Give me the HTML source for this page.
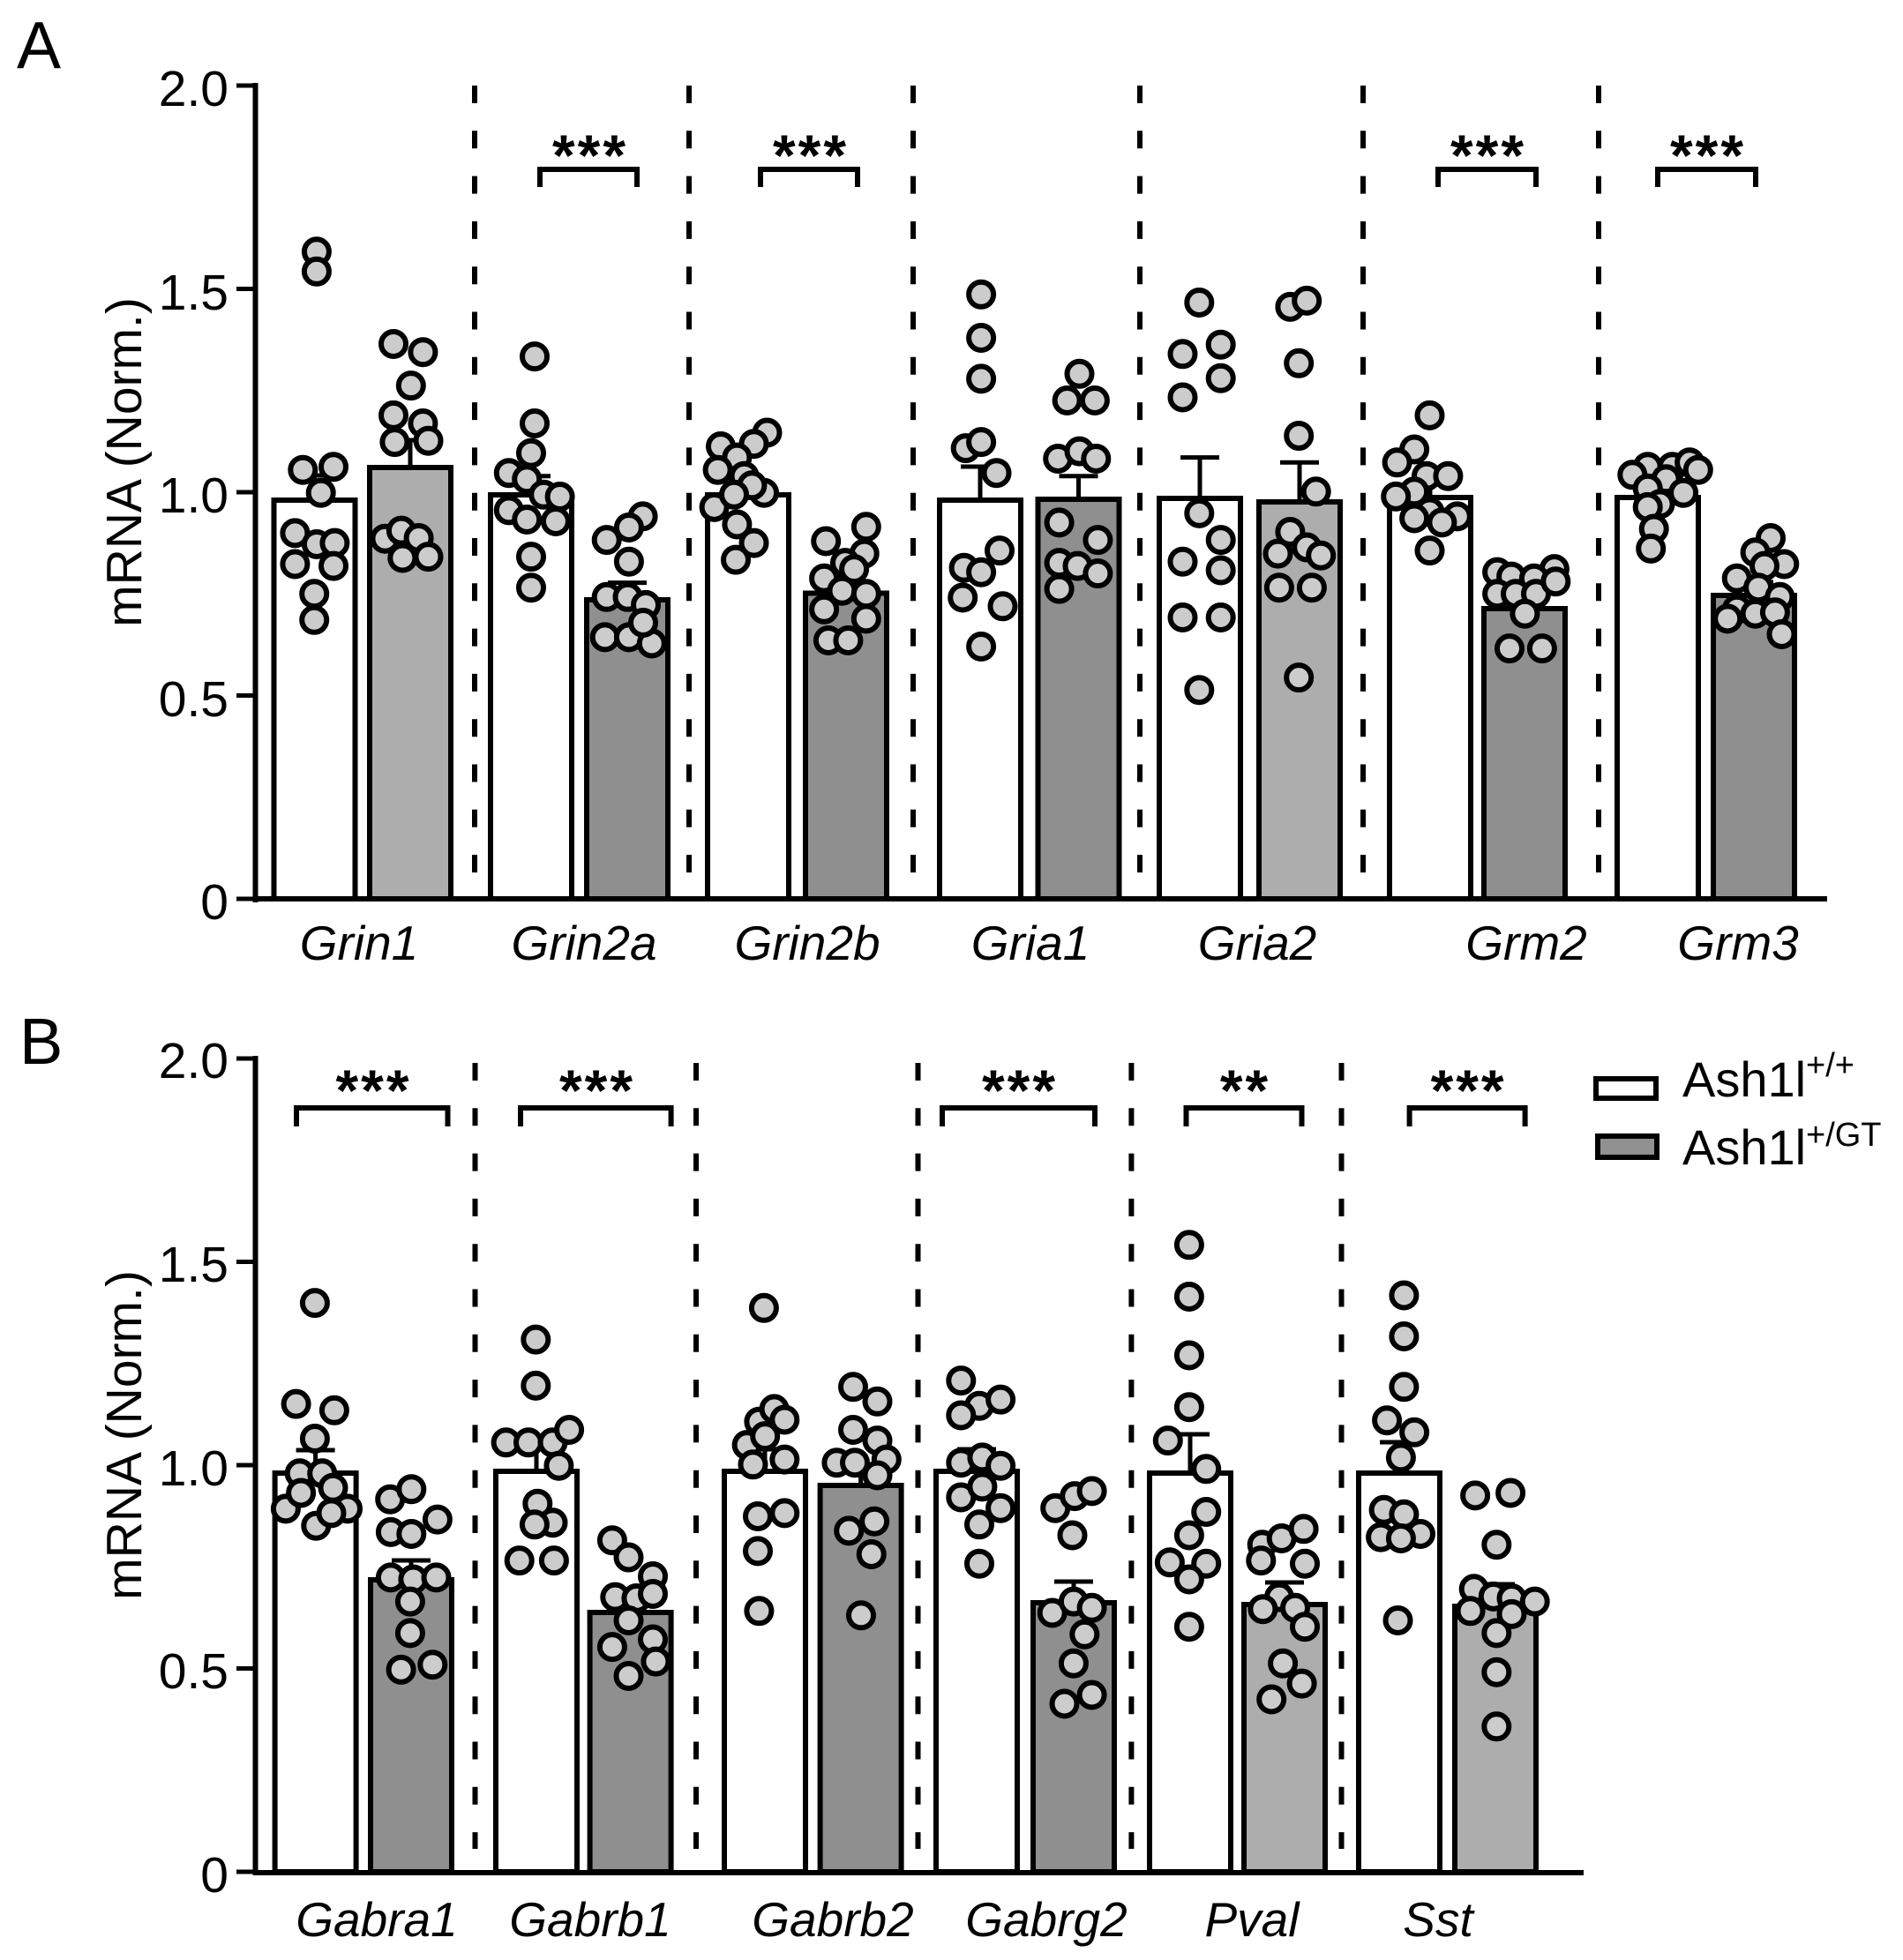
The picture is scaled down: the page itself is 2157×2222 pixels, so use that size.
<!DOCTYPE html>
<html><head><meta charset="utf-8"><style>
html,body{margin:0;padding:0;background:#fff;}
svg{display:block;}
text{font-family:"Liberation Sans",Arial,sans-serif;fill:#000;}
</style></head><body>
<svg width="2157" height="2222" viewBox="0 0 2157 2222" xmlns="http://www.w3.org/2000/svg">
<rect width="2157" height="2222" fill="#fff"/>

<!-- ================= PANEL A ================= -->
<text x="19" y="77" font-size="75">A</text>
<text transform="translate(160,524) rotate(-90)" text-anchor="middle" font-size="57">mRNA (Norm.)</text>

<g font-size="57" text-anchor="end">
<text x="259" y="120">2.0</text>
<text x="259" y="351">1.5</text>
<text x="259" y="581">1.0</text>
<text x="259" y="812">0.5</text>
<text x="259" y="1042">0</text>
</g>

<!-- dashed separators A -->
<g stroke="#000" stroke-width="6" stroke-dasharray="20 31.3">
<line x1="538" y1="97" x2="538" y2="990"/>
<line x1="781" y1="97" x2="781" y2="990"/>
<line x1="1035" y1="97" x2="1035" y2="990"/>
<line x1="1292" y1="97" x2="1292" y2="990"/>
<line x1="1545" y1="97" x2="1545" y2="990"/>
<line x1="1812" y1="97" x2="1812" y2="990"/>
</g>

<!-- bars A -->
<g stroke="#000" stroke-width="6">
<rect x="310.5" y="567" width="92" height="452" fill="#fff"/>
<rect x="419" y="530" width="92" height="489" fill="#adadad"/>
<rect x="556" y="561" width="92" height="458" fill="#fff"/>
<rect x="665" y="680" width="92" height="339" fill="#8f8f8f"/>
<rect x="802" y="561" width="92" height="458" fill="#fff"/>
<rect x="913" y="672.5" width="92" height="346.5" fill="#8f8f8f"/>
<rect x="1065" y="567" width="92" height="452" fill="#fff"/>
<rect x="1176.5" y="566" width="92" height="453" fill="#8f8f8f"/>
<rect x="1314" y="565" width="92" height="454" fill="#fff"/>
<rect x="1427" y="569" width="92" height="450" fill="#adadad"/>
<rect x="1575" y="564" width="92" height="455" fill="#fff"/>
<rect x="1682" y="690" width="92" height="329" fill="#8f8f8f"/>
<rect x="1833" y="564" width="92" height="455" fill="#fff"/>
<rect x="1942" y="675" width="92" height="344" fill="#8f8f8f"/>
</g>

<!-- error bars A -->
<g stroke="#000" stroke-width="5" fill="none">
<path d="M356.5 564V539M334.5 539H378.5"/>
<path d="M465 527V499M443 499H487"/>
<path d="M602 558V539.7M580 539.7H624"/>
<path d="M711 677V660.6M689 660.6H733"/>
<path d="M848 558V545M826 545H870"/>
<path d="M959 669.5V655.7M937 655.7H981"/>
<path d="M1111 564V529M1089 529H1133"/>
<path d="M1222.5 563V539.7M1200.5 539.7H1244.5"/>
<path d="M1360 562V518.6M1338 518.6H1382"/>
<path d="M1473 566V524.3M1451 524.3H1495"/>
<path d="M1621 561V545M1599 545H1643"/>
<path d="M1728 687V675M1706 675H1750"/>
<path d="M1879 561V548M1857 548H1901"/>
<path d="M1988 672V660M1966 660H2010"/>
</g>

<!-- points A -->
<g fill="#cccccc" stroke="#000" stroke-width="6">
<!-- Grin1 WT -->
<circle cx="358.9" cy="285.3" r="14"/><circle cx="358.9" cy="307.8" r="14"/>
<circle cx="343.3" cy="532.7" r="14"/><circle cx="378" cy="529.2" r="14"/>
<circle cx="363.7" cy="558.7" r="14"/><circle cx="334.4" cy="604.4" r="14"/>
<circle cx="358.9" cy="617" r="14"/><circle cx="379.4" cy="615.6" r="14"/>
<circle cx="334.4" cy="639.5" r="14"/><circle cx="378" cy="641.6" r="14"/>
<circle cx="356.2" cy="673.2" r="14"/><circle cx="356.2" cy="702.8" r="14"/>
<!-- Grin1 GT -->
<circle cx="446" cy="390" r="14"/><circle cx="479.4" cy="399.2" r="14"/>
<circle cx="465.8" cy="437.1" r="14"/><circle cx="446" cy="470.9" r="14"/>
<circle cx="479.4" cy="480" r="14"/><circle cx="447.4" cy="501.1" r="14"/>
<circle cx="485.5" cy="499.7" r="14"/><circle cx="436.5" cy="610.7" r="14"/>
<circle cx="454.9" cy="601.6" r="14"/><circle cx="474.6" cy="610" r="14"/>
<circle cx="456.3" cy="632.5" r="14"/><circle cx="485.5" cy="631.1" r="14"/>
<!-- Grin2a WT -->
<circle cx="606" cy="404.1" r="14"/><circle cx="606" cy="480" r="14"/>
<circle cx="602" cy="513.7" r="14"/><circle cx="576.8" cy="536.2" r="14"/>
<circle cx="597.2" cy="543.2" r="14"/><circle cx="616.2" cy="560.8" r="14"/>
<circle cx="634.6" cy="563" r="14"/><circle cx="576.8" cy="578.4" r="14"/>
<circle cx="597.2" cy="589" r="14"/><circle cx="629.9" cy="591" r="14"/>
<circle cx="602" cy="631.1" r="14"/><circle cx="602" cy="666.2" r="14"/>
<!-- Grin2a GT -->
<circle cx="728.6" cy="585.4" r="14"/><circle cx="712.9" cy="598" r="14"/>
<circle cx="687.7" cy="612.1" r="14"/><circle cx="712.9" cy="636.7" r="14"/>
<circle cx="687.7" cy="676.8" r="14"/><circle cx="711.5" cy="676.8" r="14"/>
<circle cx="732" cy="685.9" r="14"/><circle cx="685.7" cy="722.4" r="14"/>
<circle cx="712.9" cy="722.4" r="14"/><circle cx="738.8" cy="729.5" r="14"/>
<circle cx="729" cy="706" r="14"/>
<!-- Grin2b WT -->
<circle cx="817" cy="506" r="14"/><circle cx="869.5" cy="490.5" r="14"/>
<circle cx="854.5" cy="503.2" r="14"/><circle cx="835.4" cy="518.6" r="14"/>
<circle cx="813.6" cy="532.7" r="14"/><circle cx="843.6" cy="539.7" r="14"/>
<circle cx="866" cy="558.7" r="14"/><circle cx="809.6" cy="574.9" r="14"/>
<circle cx="852.4" cy="550.3" r="14"/><circle cx="832" cy="560.8" r="14"/>
<circle cx="835.4" cy="594.5" r="14"/><circle cx="854.5" cy="615.6" r="14"/>
<circle cx="834" cy="634.6" r="14"/>
<!-- Grin2b GT -->
<circle cx="981.8" cy="597.3" r="14"/><circle cx="936.2" cy="613.5" r="14"/>
<circle cx="979.7" cy="627.6" r="14"/><circle cx="958" cy="638.1" r="14"/>
<circle cx="934.1" cy="655.7" r="14"/><circle cx="968.1" cy="645.1" r="14"/>
<circle cx="954.5" cy="669.7" r="14"/><circle cx="981.8" cy="673.2" r="14"/>
<circle cx="934.1" cy="690.8" r="14"/><circle cx="981.8" cy="701.4" r="14"/>
<circle cx="938.9" cy="726" r="14"/><circle cx="961.4" cy="726" r="14"/>
<!-- Gria1 WT -->
<circle cx="1112.1" cy="333.8" r="14"/><circle cx="1112.1" cy="383" r="14"/>
<circle cx="1112.1" cy="429.4" r="14"/><circle cx="1094.7" cy="508.1" r="14"/>
<circle cx="1112.1" cy="501.1" r="14"/><circle cx="1129.5" cy="536.2" r="14"/>
<circle cx="1133" cy="624.1" r="14"/><circle cx="1092.6" cy="643.7" r="14"/>
<circle cx="1112.1" cy="648.7" r="14"/><circle cx="1091.2" cy="677.5" r="14"/>
<circle cx="1136.5" cy="687.3" r="14"/><circle cx="1112.1" cy="733" r="14"/>
<!-- Gria1 GT -->
<circle cx="1223.5" cy="423.8" r="14"/><circle cx="1209.6" cy="454" r="14"/>
<circle cx="1240.9" cy="454" r="14"/><circle cx="1199.2" cy="520" r="14"/>
<circle cx="1223.5" cy="511.6" r="14"/><circle cx="1242.3" cy="520" r="14"/>
<circle cx="1200.6" cy="592.4" r="14"/><circle cx="1244.4" cy="612.1" r="14"/>
<circle cx="1200.6" cy="638.1" r="14"/><circle cx="1221.5" cy="641.6" r="14"/>
<circle cx="1244.4" cy="650.1" r="14"/><circle cx="1200.6" cy="667.6" r="14"/>
<!-- Gria2 WT -->
<circle cx="1359.3" cy="343" r="14"/><circle cx="1340.5" cy="401.3" r="14"/>
<circle cx="1383.7" cy="390.7" r="14"/><circle cx="1383.7" cy="428.7" r="14"/>
<circle cx="1340.5" cy="450.5" r="14"/><circle cx="1359.3" cy="581.9" r="14"/>
<circle cx="1383.7" cy="612.1" r="14"/><circle cx="1340.5" cy="636.7" r="14"/>
<circle cx="1383.7" cy="646.5" r="14"/><circle cx="1340.5" cy="700" r="14"/>
<circle cx="1383.7" cy="700" r="14"/><circle cx="1359.3" cy="782.2" r="14"/>
<!-- Gria2 GT -->
<circle cx="1462.4" cy="347.9" r="14"/><circle cx="1481.2" cy="340.9" r="14"/>
<circle cx="1472.2" cy="411.8" r="14"/><circle cx="1472.2" cy="494" r="14"/>
<circle cx="1491.7" cy="557.3" r="14"/><circle cx="1462.4" cy="603" r="14"/>
<circle cx="1448.5" cy="627.6" r="14"/><circle cx="1481.2" cy="620.5" r="14"/>
<circle cx="1497.2" cy="629.7" r="14"/><circle cx="1449.9" cy="666.2" r="14"/>
<circle cx="1486.9" cy="666.2" r="14"/><circle cx="1472.2" cy="768.1" r="14"/>
<!-- Grm2 WT -->
<circle cx="1620.5" cy="470.9" r="14"/><circle cx="1603.1" cy="509.5" r="14"/>
<circle cx="1583.6" cy="524.3" r="14"/><circle cx="1617" cy="539.7" r="14"/>
<circle cx="1641.4" cy="539.7" r="14"/><circle cx="1603.1" cy="557.3" r="14"/>
<circle cx="1582.2" cy="562.9" r="14"/><circle cx="1620.5" cy="580.5" r="14"/>
<circle cx="1651.8" cy="585.4" r="14"/><circle cx="1603.1" cy="587.5" r="14"/>
<circle cx="1634.4" cy="592.4" r="14"/><circle cx="1620.5" cy="624.1" r="14"/>
<!-- Grm2 GT -->
<circle cx="1697.1" cy="648.6" r="14"/><circle cx="1713.1" cy="653.6" r="14"/>
<circle cx="1761.9" cy="645.1" r="14"/><circle cx="1738.9" cy="655.7" r="14"/>
<circle cx="1697.1" cy="673.2" r="14"/><circle cx="1718" cy="673.2" r="14"/>
<circle cx="1741" cy="673.2" r="14"/><circle cx="1728.4" cy="695.7" r="14"/>
<circle cx="1711" cy="735.1" r="14"/><circle cx="1747.9" cy="735.1" r="14"/>
<circle cx="1763.3" cy="659.2" r="14"/>
<!-- Grm3 WT -->
<circle cx="1867.7" cy="529.2" r="14"/><circle cx="1850.3" cy="538.3" r="14"/>
<circle cx="1895.6" cy="529.2" r="14"/><circle cx="1915.1" cy="524.3" r="14"/>
<circle cx="1924.8" cy="532.7" r="14"/><circle cx="1888.6" cy="543.2" r="14"/>
<circle cx="1867.7" cy="553.8" r="14"/><circle cx="1908.1" cy="558.7" r="14"/>
<circle cx="1881.6" cy="571.4" r="14"/><circle cx="1867.7" cy="574.9" r="14"/>
<circle cx="1874.7" cy="599.5" r="14"/><circle cx="1871.2" cy="621.9" r="14"/>
<!-- Grm3 GT -->
<circle cx="2007" cy="610" r="14"/><circle cx="1989.6" cy="626.2" r="14"/>
<circle cx="2022.3" cy="639.5" r="14"/><circle cx="2000" cy="641.6" r="14"/>
<circle cx="1968.7" cy="655.7" r="14"/><circle cx="1993.1" cy="666.2" r="14"/>
<circle cx="2017.4" cy="676.8" r="14"/><circle cx="1968.7" cy="690.8" r="14"/>
<circle cx="1989.6" cy="695.7" r="14"/><circle cx="2011.9" cy="694.3" r="14"/>
<circle cx="1958.2" cy="701.4" r="14"/><circle cx="2019.5" cy="719" r="14"/>
</g>

<!-- axes A -->
<g stroke="#000" fill="none">
<line x1="289.5" y1="94" x2="289.5" y2="1023" stroke-width="6"/>
<line x1="286.5" y1="1019" x2="2071" y2="1019" stroke-width="6"/>
<path d="M268 97H289.5M268 327.5H289.5M268 558H289.5M268 788.5H289.5M268 1019H289.5" stroke-width="5"/>
</g>

<!-- significance A -->
<g stroke="#000" stroke-width="6" fill="none">
<path d="M612 212V192H722V212"/>
<path d="M862 212V192H972V212"/>
<path d="M1630 212V192H1741V212"/>
<path d="M1879 212V192H1990V212"/>
</g>
<g font-size="66" font-weight="bold" text-anchor="middle" letter-spacing="3">
<text x="669" y="199">***</text>
<text x="919" y="199">***</text>
<text x="1687" y="199">***</text>
<text x="1936" y="199">***</text>
</g>

<!-- x labels A -->
<g font-size="55" font-style="italic" text-anchor="middle">
<text x="407" y="1088">Grin1</text>
<text x="662" y="1088">Grin2a</text>
<text x="915" y="1088">Grin2b</text>
<text x="1168" y="1088">Gria1</text>
<text x="1425" y="1088">Gria2</text>
<text x="1730" y="1088">Grm2</text>
<text x="1970" y="1088">Grm3</text>
</g>

<!-- ================= PANEL B ================= -->
<text x="22" y="1206" font-size="74">B</text>
<text transform="translate(160,1627) rotate(-90)" text-anchor="middle" font-size="57">mRNA (Norm.)</text>

<g font-size="57" text-anchor="end">
<text x="259" y="1222">2.0</text>
<text x="259" y="1453">1.5</text>
<text x="259" y="1684">1.0</text>
<text x="259" y="1914">0.5</text>
<text x="259" y="2145">0</text>
</g>

<g stroke="#000" stroke-width="6" stroke-dasharray="20 31.3">
<line x1="538.5" y1="1205" x2="538.5" y2="2096"/>
<line x1="789" y1="1205" x2="789" y2="2096"/>
<line x1="1040.5" y1="1205" x2="1040.5" y2="2096"/>
<line x1="1282.4" y1="1205" x2="1282.4" y2="2096"/>
<line x1="1520.5" y1="1205" x2="1520.5" y2="2096"/>
</g>

<g stroke="#000" stroke-width="6">
<rect x="311.6" y="1670" width="92" height="452" fill="#fff"/>
<rect x="420" y="1791" width="92" height="331" fill="#8f8f8f"/>
<rect x="562" y="1668" width="92" height="454" fill="#fff"/>
<rect x="668.6" y="1828" width="92" height="294" fill="#8f8f8f"/>
<rect x="821" y="1668" width="92" height="454" fill="#fff"/>
<rect x="929.6" y="1684" width="92" height="438" fill="#8f8f8f"/>
<rect x="1061" y="1668" width="92" height="454" fill="#fff"/>
<rect x="1171" y="1817" width="92" height="305" fill="#8f8f8f"/>
<rect x="1303" y="1670" width="92" height="452" fill="#fff"/>
<rect x="1410" y="1819" width="92" height="303" fill="#adadad"/>
<rect x="1540" y="1670" width="92" height="452" fill="#fff"/>
<rect x="1649" y="1821" width="92" height="301" fill="#adadad"/>
</g>

<g stroke="#000" stroke-width="5" fill="none">
<path d="M357.6 1667V1644M335.6 1644H379.6"/>
<path d="M466 1788V1769M444 1769H488"/>
<path d="M608 1665V1638M586 1638H630"/>
<path d="M714.6 1825V1809M692.6 1809H736.6"/>
<path d="M867 1665V1643M845 1643H889"/>
<path d="M975.6 1681V1666M953.6 1666H997.6"/>
<path d="M1107 1665V1643M1085 1643H1129"/>
<path d="M1217 1814V1793M1195 1793H1239"/>
<path d="M1349 1667V1626M1327 1626H1371"/>
<path d="M1456 1816V1794M1434 1794H1478"/>
<path d="M1586 1667V1635M1564 1635H1608"/>
<path d="M1695 1818V1796M1673 1796H1717"/>
</g>

<g fill="#cccccc" stroke="#000" stroke-width="6">
<!-- Gabra1 WT -->
<circle cx="356.9" cy="1477.1" r="14"/><circle cx="335.6" cy="1591.6" r="14"/>
<circle cx="378.9" cy="1598.8" r="14"/><circle cx="356.9" cy="1631" r="14"/>
<circle cx="339.7" cy="1670.3" r="14"/><circle cx="365.2" cy="1670.3" r="14"/>
<circle cx="323.9" cy="1710.4" r="14"/><circle cx="341.1" cy="1692.5" r="14"/>
<circle cx="377.5" cy="1686.8" r="14"/><circle cx="394" cy="1710.4" r="14"/>
<circle cx="358.3" cy="1729.7" r="14"/><circle cx="375.5" cy="1715.4" r="14"/>
<!-- Gabra1 GT -->
<circle cx="442.2" cy="1699.7" r="14"/><circle cx="466.3" cy="1688.2" r="14"/>
<circle cx="495.9" cy="1722.6" r="14"/><circle cx="442.9" cy="1736.9" r="14"/>
<circle cx="466.3" cy="1739" r="14"/><circle cx="442.9" cy="1788.4" r="14"/>
<circle cx="468.4" cy="1790.5" r="14"/><circle cx="494.5" cy="1788.4" r="14"/>
<circle cx="464.9" cy="1815.6" r="14"/><circle cx="464.9" cy="1851.4" r="14"/>
<circle cx="454.6" cy="1892.9" r="14"/><circle cx="490.3" cy="1887.2" r="14"/>
<!-- Gabrb1 WT -->
<circle cx="607.3" cy="1518.6" r="14"/><circle cx="607.3" cy="1570.9" r="14"/>
<circle cx="573.6" cy="1635.3" r="14"/><circle cx="599" cy="1635.3" r="14"/>
<circle cx="626.5" cy="1635.3" r="14"/><circle cx="645.1" cy="1621" r="14"/>
<circle cx="633.4" cy="1661.7" r="14"/><circle cx="609.3" cy="1704.7" r="14"/>
<circle cx="626.5" cy="1726.2" r="14"/><circle cx="605.9" cy="1728.3" r="14"/>
<circle cx="588.7" cy="1769.1" r="14"/><circle cx="627.9" cy="1769.1" r="14"/>
<!-- Gabrb1 GT -->
<circle cx="693.9" cy="1746.2" r="14"/><circle cx="712.5" cy="1765.5" r="14"/>
<circle cx="740" cy="1787" r="14"/><circle cx="697.3" cy="1810.6" r="14"/>
<circle cx="721.4" cy="1812" r="14"/><circle cx="740" cy="1807" r="14"/>
<circle cx="712.5" cy="1837" r="14"/><circle cx="693.9" cy="1867.1" r="14"/>
<circle cx="740" cy="1858.5" r="14"/><circle cx="743.4" cy="1883.6" r="14"/>
<circle cx="712.5" cy="1900" r="14"/>
<!-- Gabrb2 WT -->
<circle cx="865.9" cy="1482.8" r="14"/><circle cx="860.4" cy="1611.7" r="14"/>
<circle cx="877.6" cy="1597.4" r="14"/><circle cx="889.3" cy="1609.5" r="14"/>
<circle cx="846.6" cy="1638.1" r="14"/><circle cx="867.2" cy="1628.1" r="14"/>
<circle cx="889.3" cy="1654.6" r="14"/><circle cx="853.5" cy="1660.3" r="14"/>
<circle cx="859" cy="1719" r="14"/><circle cx="889.3" cy="1715.4" r="14"/>
<circle cx="859" cy="1758.4" r="14"/><circle cx="860.4" cy="1826.3" r="14"/>
<!-- Gabrb2 GT -->
<circle cx="967" cy="1572.3" r="14"/><circle cx="994.5" cy="1588.8" r="14"/>
<circle cx="967" cy="1621" r="14"/><circle cx="994.5" cy="1633.1" r="14"/>
<circle cx="1004.8" cy="1654.6" r="14"/><circle cx="948.4" cy="1658.2" r="14"/>
<circle cx="969" cy="1658.2" r="14"/><circle cx="994.5" cy="1672.5" r="14"/>
<circle cx="962.2" cy="1735.4" r="14"/><circle cx="991.1" cy="1724.7" r="14"/>
<circle cx="987.7" cy="1762" r="14"/><circle cx="976" cy="1831.3" r="14"/>
<!-- Gabrg2 WT -->
<circle cx="1089.3" cy="1565.1" r="14"/><circle cx="1110" cy="1593.8" r="14"/>
<circle cx="1134.1" cy="1586.6" r="14"/><circle cx="1089.3" cy="1604.5" r="14"/>
<circle cx="1089.3" cy="1658.2" r="14"/><circle cx="1113.4" cy="1652.4" r="14"/>
<circle cx="1134.1" cy="1661.7" r="14"/><circle cx="1089.3" cy="1697.5" r="14"/>
<circle cx="1113.4" cy="1685.4" r="14"/><circle cx="1134.1" cy="1709.7" r="14"/>
<circle cx="1110" cy="1728.3" r="14"/><circle cx="1110" cy="1772.7" r="14"/>
<!-- Gabrg2 GT -->
<circle cx="1196.2" cy="1709.7" r="14"/><circle cx="1218.2" cy="1696.1" r="14"/>
<circle cx="1237.6" cy="1690.4" r="14"/><circle cx="1215.5" cy="1740.5" r="14"/>
<circle cx="1192.7" cy="1828.5" r="14"/><circle cx="1216.9" cy="1815.6" r="14"/>
<circle cx="1237.6" cy="1822.8" r="14"/><circle cx="1229.3" cy="1852.8" r="14"/>
<circle cx="1216.9" cy="1885.7" r="14"/><circle cx="1206.5" cy="1931.5" r="14"/>
<circle cx="1237.6" cy="1921.5" r="14"/>
<!-- Pval WT -->
<circle cx="1347.9" cy="1411.3" r="14"/><circle cx="1347.9" cy="1470" r="14"/>
<circle cx="1347.9" cy="1536.5" r="14"/><circle cx="1347.9" cy="1595.2" r="14"/>
<circle cx="1323.8" cy="1633.1" r="14"/><circle cx="1367.2" cy="1665.3" r="14"/>
<circle cx="1367.2" cy="1714" r="14"/><circle cx="1347.9" cy="1740.5" r="14"/>
<circle cx="1325.9" cy="1771.2" r="14"/><circle cx="1367.2" cy="1772.7" r="14"/>
<circle cx="1347.9" cy="1790.5" r="14"/><circle cx="1347.9" cy="1844.2" r="14"/>
<!-- Pval GT -->
<circle cx="1430.7" cy="1751.2" r="14"/><circle cx="1452.7" cy="1744" r="14"/>
<circle cx="1477.6" cy="1733.3" r="14"/><circle cx="1429.3" cy="1769.1" r="14"/>
<circle cx="1479" cy="1772.7" r="14"/><circle cx="1450" cy="1810.6" r="14"/>
<circle cx="1431.4" cy="1824.2" r="14"/><circle cx="1468" cy="1822.8" r="14"/>
<circle cx="1479" cy="1844.2" r="14"/><circle cx="1454.1" cy="1885.7" r="14"/>
<circle cx="1475.6" cy="1908.6" r="14"/><circle cx="1441.2" cy="1926.5" r="14"/>
<!-- Sst WT -->
<circle cx="1591.4" cy="1468.5" r="14"/><circle cx="1591.4" cy="1515" r="14"/>
<circle cx="1591.4" cy="1572.3" r="14"/><circle cx="1572.1" cy="1610.2" r="14"/>
<circle cx="1603.1" cy="1623.8" r="14"/><circle cx="1587.9" cy="1652.4" r="14"/>
<circle cx="1568.6" cy="1711.8" r="14"/><circle cx="1591.4" cy="1716.8" r="14"/>
<circle cx="1610" cy="1739" r="14"/><circle cx="1565.1" cy="1742.6" r="14"/>
<circle cx="1587.9" cy="1744" r="14"/><circle cx="1584.5" cy="1837" r="14"/>
<!-- Sst GT -->
<circle cx="1672.1" cy="1695.4" r="14"/><circle cx="1712.1" cy="1692.5" r="14"/>
<circle cx="1696.3" cy="1751.2" r="14"/><circle cx="1670.7" cy="1801.3" r="14"/>
<circle cx="1692.8" cy="1809.9" r="14"/><circle cx="1713.5" cy="1812" r="14"/>
<circle cx="1739.7" cy="1815.6" r="14"/><circle cx="1666.6" cy="1826.3" r="14"/>
<circle cx="1713.5" cy="1829.9" r="14"/><circle cx="1696.3" cy="1851.4" r="14"/>
<circle cx="1696.3" cy="1895.7" r="14"/><circle cx="1696.3" cy="1957.3" r="14"/>
</g>

<g stroke="#000" fill="none">
<line x1="289.5" y1="1197" x2="289.5" y2="2126" stroke-width="6"/>
<line x1="286.5" y1="2123" x2="1795" y2="2123" stroke-width="6"/>
<path d="M268 1200H289.5M268 1430.5H289.5M268 1661H289.5M268 1891.5H289.5M268 2122H289.5" stroke-width="5"/>
</g>

<g stroke="#000" stroke-width="6" fill="none">
<path d="M336 1277V1256H507.5V1277"/>
<path d="M590 1277V1256H760.6V1277"/>
<path d="M1068 1277V1256H1241V1277"/>
<path d="M1344.5 1277V1256H1475.5V1277"/>
<path d="M1597.6 1277V1256H1728.6V1277"/>
</g>
<g font-size="66" font-weight="bold" text-anchor="middle" letter-spacing="3">
<text x="423.5" y="1259">***</text>
<text x="677" y="1259">***</text>
<text x="1156" y="1259">***</text>
<text x="1411.5" y="1259">**</text>
<text x="1664.6" y="1259">***</text>
</g>

<g font-size="55" font-style="italic" text-anchor="middle">
<text x="427" y="2195">Gabra1</text>
<text x="669" y="2195">Gabrb1</text>
<text x="944" y="2195">Gabrb2</text>
<text x="1186" y="2195">Gabrg2</text>
<text x="1419" y="2195">Pval</text>
<text x="1630" y="2195">Sst</text>
</g>

<!-- legend -->
<rect x="1809" y="1223" width="68" height="22" fill="#fff" stroke="#000" stroke-width="6"/>
<rect x="1811" y="1288" width="67" height="24" fill="#909090" stroke="#000" stroke-width="6"/>
<text x="1907" y="1243" font-size="56">Ash1l</text>
<text x="2047" y="1220" font-size="38">+/+</text>
<text x="1907" y="1320" font-size="56">Ash1l</text>
<text x="2047" y="1299" font-size="38">+/GT</text>
</svg>
</body></html>
